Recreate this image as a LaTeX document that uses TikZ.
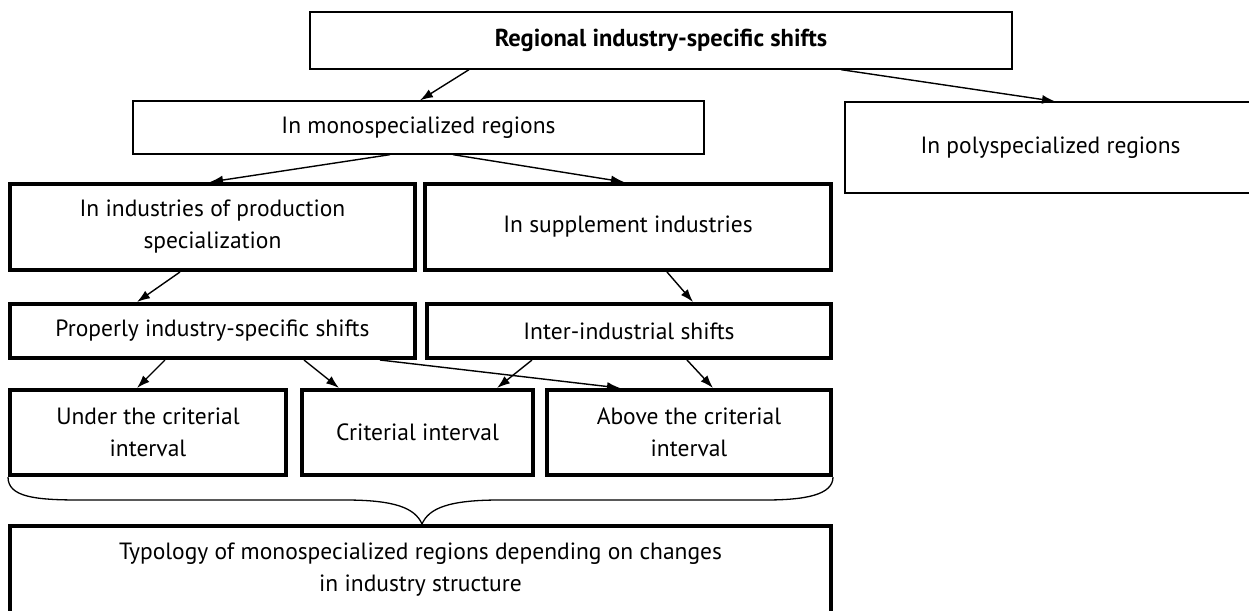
\documentclass[tikz,border=0pt]{standalone}
\usepackage{fontspec}
\setmainfont{PT Sans}
\usetikzlibrary{arrows.meta}
\tikzset{
  thinbox/.style={draw=black, line width=1.3pt, rectangle, inner sep=0pt, align=center,
    font=\fontsize{23.5}{32}\selectfont},
  thickbox/.style={draw=black, line width=4pt, rectangle, inner sep=0pt, align=center,
    font=\fontsize{23.5}{32}\selectfont},
  plaintext/.style={inner sep=0pt, align=center, font=\fontsize{23.5}{32}\selectfont},
  arr/.style={line width=1.4pt, -{Latex[length=13pt,width=9pt]}},
  brace/.style={line width=1.3pt}
}
\begin{document}
\begin{tikzpicture}[x=1pt,y=-1pt]
\useasboundingbox (0,0) rectangle (1249,610);
% first row
\node[thinbox, minimum width=702, minimum height=57] (top) at (661,40.5) {\fontsize{24.5}{32}\selectfont\bfseries Regional industry-specific shifts};
\node[thinbox, minimum width=571, minimum height=53] (mono) at (418.5,127.5) {In monospecialized regions};
\node[thinbox, minimum width=411, minimum height=91] (poly) at (1050.5,147.5) {In polyspecialized regions};
% second row
\node[thickbox, minimum width=405, minimum height=86] (prod) at (212.5,227) {In industries of production\\specialization};
\node[thickbox, minimum width=406, minimum height=86] (supp) at (628,227) {In supplement industries};
% third row
\node[thickbox, minimum width=405, minimum height=54] (prop) at (212.5,331) {Properly industry-specific shifts};
\node[thickbox, minimum width=404, minimum height=54] (inter) at (629,331) {Inter-industrial shifts};
% fourth row
\node[thickbox, minimum width=276, minimum height=85] (under) at (148,432.5) {Under the criterial\\interval};
\node[thickbox, minimum width=231, minimum height=85] (crit) at (417.5,432.5) {Criterial interval};
\node[thickbox, minimum width=284, minimum height=85] (above) at (689,432.5) {Above the criterial\\interval};
% bottom
\node[thickbox, minimum width=821, minimum height=130, anchor=north] (bottom) at (420.5,524) {};
\node[plaintext] (bottomtext) at (420.5,570) {Typology of monospecialized regions depending on changes\\in industry structure};
% arrows
\draw[arr] ([xshift=-192pt]top.south) -- ([xshift=1.5pt]mono.north);
\draw[arr] ([xshift=180pt]top.south) -- ([xshift=4.5pt]poly.north);
\draw[arr] ([xshift=-28.5pt]mono.south) -- ([xshift=-2.5pt]prod.north);
\draw[arr] ([xshift=34.5pt]mono.south) -- ([xshift=-4pt]supp.north);
\draw[arr] ([xshift=-32.5pt]prod.south) -- ([xshift=-75.5pt]prop.north);
\draw[arr] ([xshift=39pt]supp.south) -- ([xshift=64pt]inter.north);
\draw[arr] ([xshift=-47.5pt]prop.south) -- ([xshift=-11pt]under.north);
\draw[arr] ([xshift=91.5pt]prop.south) -- ([xshift=-78.5pt]crit.north);
\draw[arr] ([xshift=167.5pt]prop.south) -- ([xshift=-69pt]above.north);
\draw[arr] ([xshift=-97pt]inter.south) -- ([xshift=79.5pt]crit.north);
\draw[arr] ([xshift=58pt]inter.south) -- ([xshift=24pt]above.north);
% brace
\coordinate (bracetip) at ([xshift=1.5pt]bottom.north);
\draw[brace] (under.south west) .. controls ([yshift=-20pt]under.south west) and (35,500) .. (80,500)
  -- (345,500) .. controls (395,500) and (415,508) .. (bracetip)
  .. controls (429,508) and (449,500) .. (500,500)
  -- (765,500) .. controls (805,500) and (833,495) .. (above.south east);
\end{tikzpicture}
\end{document}
